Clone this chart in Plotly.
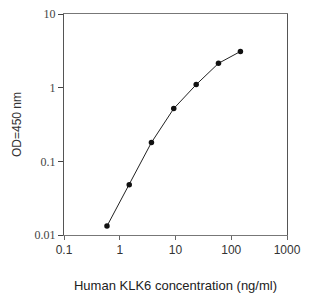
import plotly.graph_objects as go

concentration = [0.59, 1.48, 3.7, 9.3, 23.5, 59, 146]
od450 = [0.0132, 0.048, 0.18, 0.52, 1.1, 2.14, 3.1]
x_ticks = [0.1, 1, 10, 100, 1000]
x_tick_labels = ["0.1", "1", "10", "100", "1000"]
y_ticks = [0.01, 0.1, 1, 10]
y_tick_labels = ["0.01", "0.1", "1", "10"]

fig = go.Figure()
fig.add_trace(go.Scatter(
    x=concentration, y=od450, mode="lines+markers",
    line=dict(color="#222222", width=1),
    marker=dict(color="#111111", size=5.5, symbol="circle"),
    showlegend=False,
))

fig.update_layout(
    width=310, height=299,
    margin=dict(l=64, r=23, t=14, b=64, autoexpand=False),
    paper_bgcolor="white", plot_bgcolor="white",
    font=dict(family="Liberation Sans, Arial, sans-serif", color="#333333"),
)
fig.update_xaxes(
    type="log", range=[-1, 3],
    tickvals=x_ticks, ticktext=x_tick_labels,
    ticks="outside", ticklen=4, tickcolor="#666666",
    showline=True, linecolor="#777777", linewidth=1, mirror=True,
    showgrid=False, zeroline=False, automargin=False,
    tickfont=dict(family="Liberation Sans, Arial, sans-serif", size=12, color="#333333"),
    title=dict(text="Human KLK6 concentration (ng/ml)",
               font=dict(family="Liberation Sans, Arial, sans-serif", size=13, color="#222222"),
               standoff=24),
)
fig.update_yaxes(
    type="log", range=[-2, 1],
    tickvals=y_ticks, ticktext=y_tick_labels,
    ticks="outside", ticklen=5, tickcolor="#444444",
    showline=True, linecolor="#555555", linewidth=1, mirror=True,
    showgrid=False, zeroline=False, automargin=False,
    tickfont=dict(family="Liberation Serif, Times New Roman, serif", size=12, color="#444444"),
    title=dict(text="OD=450 nm",
               font=dict(family="Liberation Sans, Arial, sans-serif", size=12, color="#333333"),
               standoff=10),
)

fig.write_html("out.html", config={"displayModeBar": False},
               post_script="document.body.style.margin='0';document.body.style.overflow='hidden';")
